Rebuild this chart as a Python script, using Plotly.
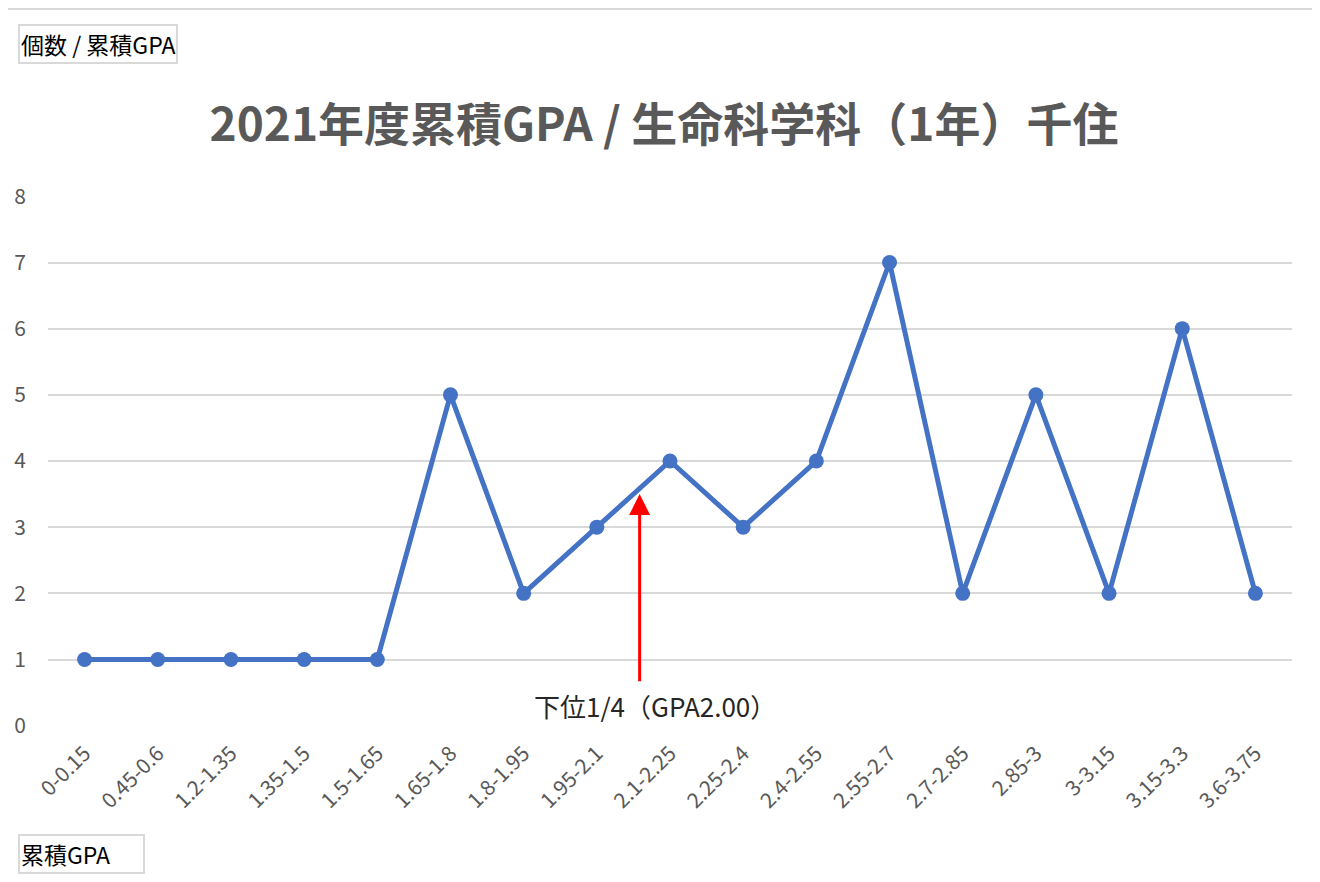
import plotly.graph_objects as go

categories = ["0-0.15", "0.45-0.6", "1.2-1.35", "1.35-1.5", "1.5-1.65", "1.65-1.8",
              "1.8-1.95", "1.95-2.1", "2.1-2.25", "2.25-2.4", "2.4-2.55", "2.55-2.7",
              "2.7-2.85", "2.85-3", "3-3.15", "3.15-3.3", "3.6-3.75"]
counts = [1, 1, 1, 1, 1, 5, 2, 3, 4, 3, 4, 7, 2, 5, 2, 6, 2]
y_ticks = [0, 1, 2, 3, 4, 5, 6, 7, 8]

title_text = "2021年度累積GPA / 生命科学科（1年）千住"
y_label = "個数 / 累積GPA"
x_label = "累積GPA"
note_text = "下位1/4（GPA2.00）"
note_x = 7.585   # position along category axis (GPA 2.00)
note_tip_y = 3.5
note_base_y = 0.65
note_label_x = 7.79
note_label_y = 0.31

FONT = "Noto Sans CJK JP, Noto Sans, sans-serif"
GREY = "#595959"

# page body has an 8px margin; compensate so the figure fills the 1320x882 window
W, H = 1312, 874
L, R, T, B = 40, 28, 188, 156
PW, PH = W - L - R, H - T - B

fig = go.Figure()
fig.add_trace(go.Scatter(
    x=list(range(len(categories))), y=counts, mode="lines+markers",
    line=dict(color="#4472C4", width=5),
    marker=dict(color="#4472C4", size=15),
    showlegend=False, cliponaxis=False,
))

fig.update_layout(
    width=W, height=H,
    margin=dict(l=L, r=R, t=T, b=B, autoexpand=False),
    paper_bgcolor="white", plot_bgcolor="white",
    font=dict(family=FONT, color=GREY),
    title=dict(text="<b>" + title_text + "</b>", x=0.5, xanchor="center",
               y=1 - 117 / H, yanchor="middle", font=dict(size=46, color=GREY, family=FONT)),
    xaxis=dict(
        tickmode="array", tickvals=list(range(len(categories))), ticktext=categories,
        range=[-0.5, len(categories) - 0.5], tickangle=-45, showgrid=False,
        zeroline=False, showline=False, ticks="", tickfont=dict(size=21, color=GREY),
        ticklabelstandoff=10, automargin=False,
    ),
    yaxis=dict(
        range=[-0.005, 8.005], tickvals=y_ticks, showgrid=True, gridcolor="#D9D9D9", gridwidth=1.5,
        zeroline=False, showline=False, ticks="", tickfont=dict(size=21, color=GREY),
        ticklabelstandoff=21, automargin=False,
    ),
    shapes=[
        dict(type="line", xref="paper", yref="paper", x0=-L / PW, x1=1 + 26 / PW,
             y0=1 + (T - 1) / PH, y1=1 + (T - 1) / PH, line=dict(color="#D9D9D9", width=2)),
        dict(type="line", xref="paper", yref="paper", x0=1 + 26 / PW, x1=1 + 26 / PW,
             y0=1 + (T - 1) / PH, y1=-B / PH, line=dict(color="#D9D9D9", width=2)),
    ],
    annotations=[
        dict(text=y_label, xref="paper", yref="paper", x=(10 - L) / PW, y=1 + (T - 35.5) / PH,
             xanchor="left", yanchor="middle", showarrow=False,
             font=dict(size=23, color="black", family=FONT),
             bordercolor="#D9D9D9", borderwidth=2, borderpad=1, bgcolor="white"),
        dict(text=x_label, xref="paper", yref="paper", x=(10 - L) / PW, y=-(846 - (T + PH)) / PH,
             xanchor="left", yanchor="middle", showarrow=False,
             font=dict(size=23, color="black", family=FONT),
             bordercolor="#D9D9D9", borderwidth=2, borderpad=1, bgcolor="white",
             width=121, align="left"),
        dict(x=note_x, y=note_tip_y, ax=note_x, ay=note_base_y, xref="x", yref="y",
             axref="x", ayref="y", text="", showarrow=True, arrowhead=2, arrowsize=1.4,
             arrowwidth=3, arrowcolor="#FF0000"),
        dict(text=note_text, x=note_label_x, y=note_label_y, xref="x", yref="y",
             showarrow=False, xanchor="center", yanchor="middle",
             font=dict(size=26, color="#262626", family=FONT)),
    ],
)

fig.write_html("out.html")
